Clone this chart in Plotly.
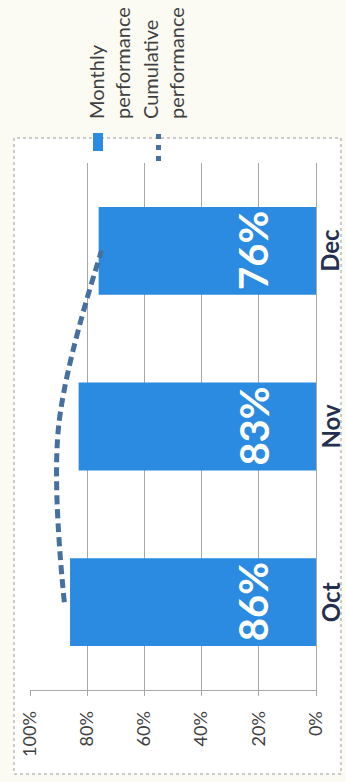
import plotly.graph_objects as go

# Monthly and cumulative performance, Q4
months = ["Oct", "Nov", "Dec"]
monthly = [0.86, 0.83, 0.76]
cumulative = [0.88, 0.90, 0.75]
tick_vals = [0, 0.2, 0.4, 0.6, 0.8, 1.0]
tick_text = ["0%", "20%", "40%", "60%", "80%", "100%"]
legend_names = ["Monthly<br>performance", "Cumulative<br>performance"]

W, H = 346, 782
L, R, T, B = 30, 30, 163, 92
PW, PH = W - L - R, H - T - B

BAR = "#2a8be0"
LINE = "#46709f"
TXT = "#404040"
FONT = "Lato"


def px_x(x):
    return (x - L) / PW


def px_y(y):
    return (H - B - y) / PH


fig = go.Figure()
fig.add_trace(go.Bar(
    x=monthly, y=months, orientation="h", name="Monthly performance",
    marker=dict(color=BAR, line=dict(width=0)), showlegend=False,
))
fig.add_trace(go.Scatter(
    x=cumulative, y=months, mode="lines", name="Cumulative performance",
    line=dict(color=LINE, width=5, dash="9px,5px", shape="spline", smoothing=1.0),
    showlegend=False,
))

# value labels inside the bars, near the base
for m, v in zip(months, monthly):
    fig.add_annotation(
        x=0.22, y=m, xref="x", yref="y", text=f"{v:.0%}", showarrow=False,
        textangle=-90, font=dict(family=FONT, size=40, color="white", weight="bold"),
    )

# month names beside the category axis
for m in months:
    fig.add_annotation(
        x=px_x(330), y=m, xref="paper", yref="y", text=m, showarrow=False,
        textangle=-90, xanchor="center", yanchor="middle",
        font=dict(family=FONT, size=24, color="#24304d", weight="bold"),
    )

shapes = [
    # outer chart frame
    dict(type="rect", xref="paper", yref="paper",
         x0=px_x(14), x1=px_x(341), y0=px_y(774), y1=px_y(138),
         fillcolor="white", line=dict(color="#9a9a9a", width=1, dash="dot"),
         layer="below"),
    # legend swatches
    dict(type="rect", xref="paper", yref="paper",
         x0=px_x(93), x1=px_x(103), y0=px_y(151), y1=px_y(133),
         fillcolor=BAR, line=dict(width=0)),
    dict(type="line", xref="paper", yref="paper",
         x0=px_x(158.5), x1=px_x(158.5), y0=px_y(161), y1=px_y(131),
         line=dict(color=LINE, width=5, dash="5px,6px")),
]
fig.update_layout(shapes=shapes)

for name, cx in zip(legend_names, [109, 163]):
    fig.add_annotation(
        x=px_x(cx), y=px_y(121), xref="paper", yref="paper", text=name,
        showarrow=False, textangle=-90, align="left",
        xanchor="center", yanchor="bottom",
        font=dict(family=FONT, size=20, color=TXT),
    )

fig.update_xaxes(
    range=[1.0, 0.0], tickvals=tick_vals, ticktext=tick_text, tickangle=-90,
    showgrid=True, gridcolor="#a8a8a8", gridwidth=1,
    showline=True, linecolor="#a8a8a8", linewidth=1,
    ticks="outside", ticklen=5, tickcolor="#a8a8a8", ticklabelstandoff=8,
    tickfont=dict(family=FONT, size=18, color=TXT), zeroline=False,
)
fig.update_yaxes(
    categoryorder="array", categoryarray=months, side="right",
    showticklabels=False, showgrid=False,
    showline=True, linecolor="#a8a8a8", linewidth=1,
)

fig.update_layout(
    width=W, height=H, margin=dict(l=L, r=R, t=T, b=B, autoexpand=False),
    paper_bgcolor="#fbfaf3", plot_bgcolor="white",
    bargap=0.5, showlegend=False,
)

fig.write_html("out.html", config={"displayModeBar": False})
